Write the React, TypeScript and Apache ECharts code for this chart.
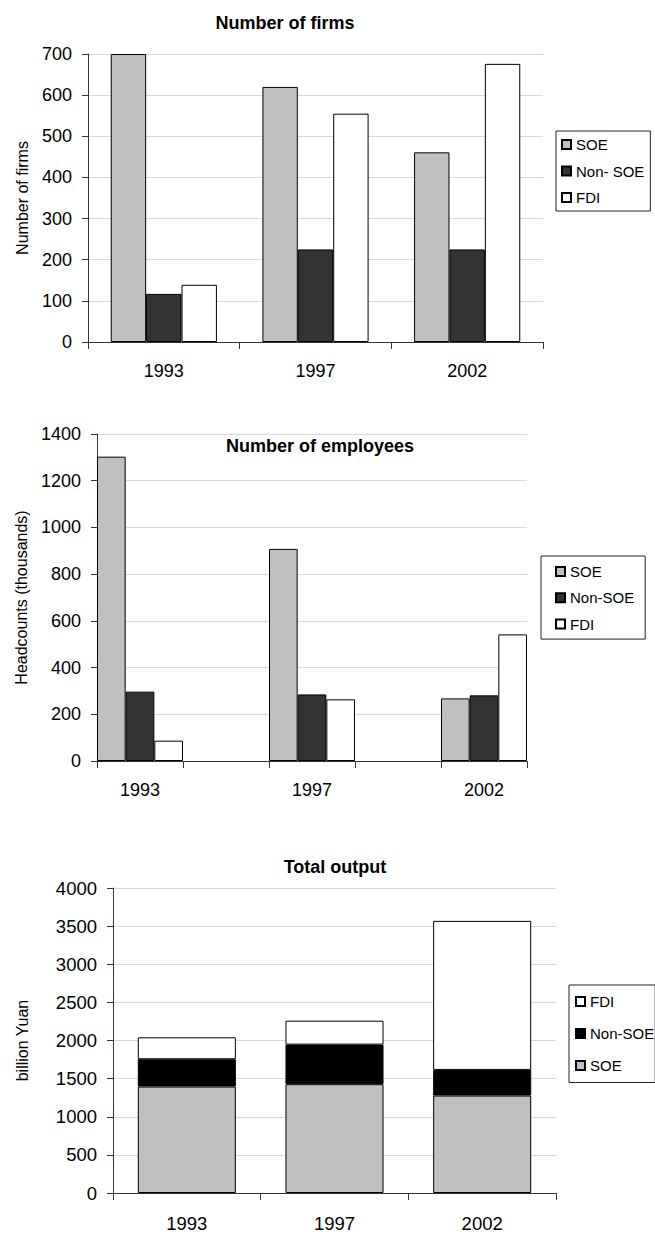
import React, { useEffect, useRef } from "react";
import * as echarts from "echarts";

// ---------- Data ----------
const years = ["1993", "1997", "2002"];

// Chart 1: Number of firms
const firmsSOE = [700, 620, 461];
const firmsNonSOE = [117, 225, 225];
const firmsFDI = [139, 555, 676];

// Chart 2: Number of employees (thousands)
const employeesSOE = [1303, 908, 268];
const employeesNonSOE = [297, 285, 281];
const employeesFDI = [87, 264, 542];

// Chart 3: Total output (billion Yuan)
const outputSOE = [1396, 1427, 1278];
const outputNonSOE = [358, 519, 336];
const outputFDI = [288, 314, 1955];

// y-axis scales
const firmsMax = 700;
const firmsStep = 100;
const employeesMax = 1400;
const employeesStep = 200;
const outputMax = 4000;
const outputStep = 500;

// ---------- Styling ----------
const FONT = "'Liberation Sans', Arial, Helvetica, sans-serif";
const GRAY = "#C0C0C0";
const DARK = "#333333";
const BLACK = "#000000";
const WHITE = "#FFFFFF";
const AXIS = "#333333";
const GRID = "#d9d9d9";

function valueAxis(max: number, interval: number, name: string, nameGap: number, fontSize: number) {
  return {
    type: "value",
    min: 0,
    max,
    interval,
    name,
    nameLocation: "middle",
    nameGap,
    nameTextStyle: { fontSize: 16, color: "#000", fontFamily: FONT },
    axisLine: { show: true, lineStyle: { color: AXIS, width: 1 } },
    axisTick: { show: true, length: 6, lineStyle: { color: AXIS, width: 1 } },
    axisLabel: {
      fontSize,
      color: "#000",
      margin: 16,
      fontFamily: FONT,
      formatter: (v: number) => String(v),
    },
    splitLine: { show: true, lineStyle: { color: GRID, width: 1 } },
  };
}

function categoryAxis(data: string[], fontSize: number, margin: number, formatter?: (v: string) => string) {
  return {
    type: "category",
    data,
    axisLine: { show: true, lineStyle: { color: AXIS, width: 1 } },
    axisTick: { show: true, length: 7, alignWithLabel: false, interval: 0, lineStyle: { color: AXIS, width: 1 } },
    axisLabel: { fontSize, color: "#000", margin, interval: 0, fontFamily: FONT, formatter },
    splitLine: { show: false },
  };
}

function barSeries(name: string, data: (number | null)[], color: string, extra: any = {}) {
  return {
    type: "bar",
    name,
    data,
    itemStyle: { color, borderColor: BLACK, borderWidth: 1 },
    emphasis: { disabled: true },
    ...extra,
  };
}

function legendBox(left: number, top: number, padding: number[], itemGap: number, data: string[]) {
  return {
    show: true,
    orient: "vertical",
    left,
    top,
    padding,
    itemGap,
    itemWidth: 9,
    itemHeight: 9,
    icon: "rect",
    borderColor: "#222",
    borderWidth: 1,
    backgroundColor: "#fff",
    selectedMode: false,
    textStyle: { fontSize: 15, color: "#000", fontFamily: FONT },
    data,
  };
}

function titleAt(text: string, x: number, y: number) {
  return {
    text,
    left: x,
    top: y,
    textAlign: "center",
    textVerticalAlign: "middle",
    padding: 0,
    textStyle: { fontSize: 18, fontWeight: "bold", color: "#000", fontFamily: FONT },
  };
}

// ---------- Options ----------
const option1 = {
  animation: false,
  textStyle: { fontFamily: FONT },
  title: titleAt("Number of firms", 285, 23),
  legend: legendBox(556, 131, [6, 6, 6, 5], 11.5, ["SOE", "Non- SOE", "FDI"]),
  grid: { left: 88, top: 54, width: 455, height: 288, containLabel: false },
  xAxis: categoryAxis(years, 18, 20),
  yAxis: valueAxis(firmsMax, firmsStep, "Number of firms", 58, 18),
  series: [
    barSeries("SOE", firmsSOE, GRAY, { barGap: "0%", barCategoryGap: "30%" }),
    barSeries("Non- SOE", firmsNonSOE, DARK, { barGap: "0%", barCategoryGap: "30%" }),
    barSeries("FDI", firmsFDI, WHITE, { barGap: "0%", barCategoryGap: "30%" }),
  ],
};

// chart 2 uses an empty slot between the years
const gapKey = (i: number) => "_gap" + i;
const employeeCategories = years.flatMap((y, i) => (i < years.length - 1 ? [y, gapKey(i)] : [y]));
const padWithGaps = (arr: number[]) => arr.flatMap((v, i) => (i < arr.length - 1 ? [v, null] : [v]));

const option2 = {
  animation: false,
  textStyle: { fontFamily: FONT },
  title: titleAt("Number of employees", 320, 46),
  legend: legendBox(541, 156, [8, 11, 7.5, 14], 11.3, ["SOE", "Non-SOE", "FDI"]),
  grid: { left: 97, top: 34, width: 430, height: 327, containLabel: false },
  xAxis: categoryAxis(employeeCategories, 18, 20, (v: string) => (v.startsWith("_gap") ? "" : v)),
  yAxis: valueAxis(employeesMax, employeesStep, "Headcounts (thousands)", 68, 18),
  series: [
    barSeries("SOE", padWithGaps(employeesSOE), GRAY, { barGap: "0%", barCategoryGap: "0%" }),
    barSeries("Non-SOE", padWithGaps(employeesNonSOE), DARK, { barGap: "0%", barCategoryGap: "0%" }),
    barSeries("FDI", padWithGaps(employeesFDI), WHITE, { barGap: "0%", barCategoryGap: "0%" }),
  ],
};

const option3 = {
  animation: false,
  textStyle: { fontFamily: FONT },
  title: titleAt("Total output", 335, 57),
  legend: legendBox(569, 175, [9, 1, 9.5, 6], 17, ["FDI", "Non-SOE", "SOE"]),
  grid: { left: 113, top: 78, width: 443, height: 305, containLabel: false },
  xAxis: categoryAxis(years, 18.5, 21),
  yAxis: valueAxis(outputMax, outputStep, "billion Yuan", 83, 18.5),
  series: [
    barSeries("SOE", outputSOE, GRAY, { stack: "total", barCategoryGap: "33.6%" }),
    barSeries("Non-SOE", outputNonSOE, BLACK, { stack: "total", barCategoryGap: "33.6%" }),
    barSeries("FDI", outputFDI, WHITE, { stack: "total", barCategoryGap: "33.6%" }),
  ],
};

// ---------- Components ----------
function Chart({ option, top, height }: { option: any; top: number; height: number }) {
  const ref = useRef<HTMLDivElement>(null);
  useEffect(() => {
    if (!ref.current) return;
    const chart = echarts.init(ref.current, undefined, { renderer: "svg" });
    chart.setOption(option);
    return () => chart.dispose();
  }, [option]);
  return <div ref={ref} style={{ position: "absolute", left: 0, top, width: 655, height }} />;
}

export default function App() {
  return (
    <div style={{ position: "relative", width: 655, height: 1234, background: "#fff" }}>
      <div style={{ position: "fixed", left: 0, top: 0, width: 655, height: 1234, background: "#fff" }}>
        <Chart option={option1} top={0} height={400} />
        <Chart option={option2} top={400} height={410} />
        <Chart option={option3} top={810} height={424} />
      </div>
    </div>
  );
}
